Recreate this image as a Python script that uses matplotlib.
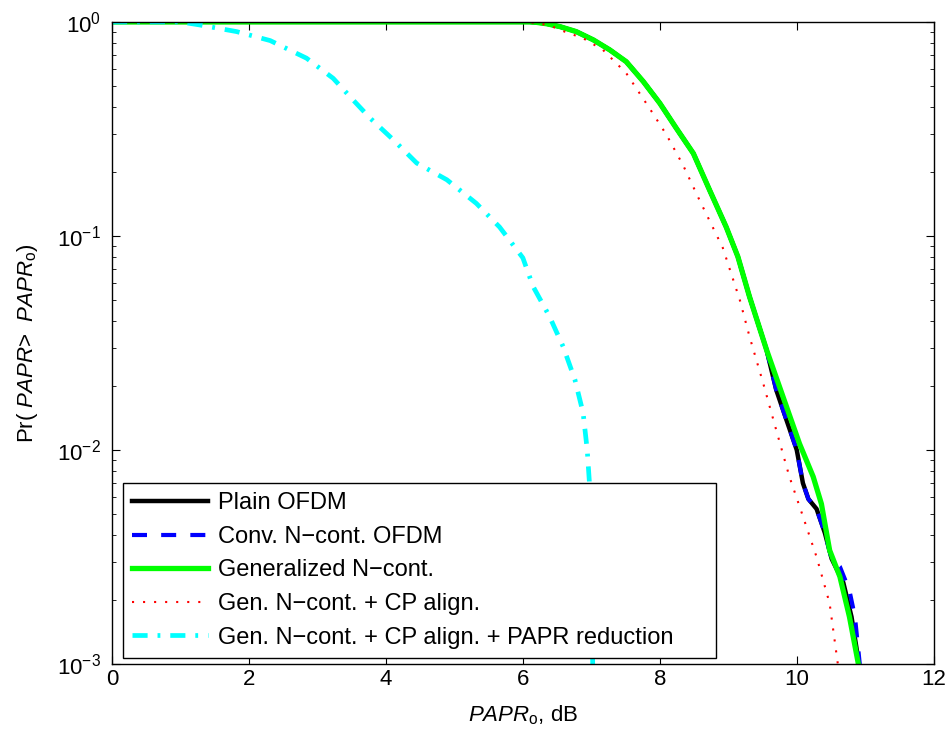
import numpy as np
import matplotlib
matplotlib.use("Agg")
from matplotlib import pyplot as plt

plt.rcParams['font.family'] = ['Liberation Sans', 'DejaVu Sans']
plt.rcParams['mathtext.fontset'] = 'custom'
plt.rcParams['mathtext.rm'] = 'Liberation Sans'
plt.rcParams['mathtext.it'] = 'Liberation Sans:italic'
plt.rcParams['mathtext.default'] = 'regular'

# CCDF curves (x in dB, y probability)
plain_x = [0, 6.1, 6.2, 6.35, 6.54, 6.78, 7.03, 7.27, 7.51, 7.76, 8.0, 8.24, 8.49, 8.73, 8.97, 9.14,
           9.31, 9.56, 9.70, 9.85, 10.0, 10.09, 10.17, 10.29, 10.41, 10.51, 10.68, 10.80, 10.91]
plain_y = [1, 1, 0.995, 0.98, 0.951, 0.901, 0.824, 0.740, 0.652, 0.526, 0.417, 0.319, 0.243, 0.163, 0.110, 0.080,
           0.0520, 0.0293, 0.0191, 0.0138, 0.0100, 0.0070, 0.0059, 0.0053, 0.0041, 0.0031, 0.0024, 0.00166, 0.001]

conv_x = [0, 6.1, 6.2, 6.35, 6.54, 6.78, 7.03, 7.27, 7.51, 7.76, 8.0, 8.24, 8.49, 8.73, 8.97, 9.14,
          9.31, 9.56, 9.70, 9.85, 10.0, 10.09, 10.17, 10.29, 10.41, 10.51, 10.63, 10.77, 10.85, 10.92]
conv_y = [1, 1, 0.995, 0.98, 0.951, 0.901, 0.824, 0.740, 0.652, 0.526, 0.417, 0.319, 0.243, 0.163, 0.110, 0.080,
          0.0520, 0.0293, 0.0191, 0.0138, 0.0100, 0.0070, 0.0059, 0.0053, 0.0041, 0.0031, 0.00285, 0.0022, 0.00166, 0.001]

gen_x = [0, 6.1, 6.2, 6.35, 6.54, 6.78, 7.03, 7.27, 7.51, 7.76, 8.0, 8.24, 8.49, 8.73, 8.97, 9.14,
         9.31, 9.56, 9.80, 10.04, 10.24, 10.36, 10.48, 10.63, 10.77, 10.90]
gen_y = [1, 1, 0.995, 0.98, 0.951, 0.901, 0.824, 0.740, 0.652, 0.526, 0.417, 0.319, 0.243, 0.163, 0.110, 0.080,
         0.0520, 0.0293, 0.0177, 0.0107, 0.0075, 0.0056, 0.0034, 0.00256, 0.00166, 0.001]

cp_x = [0, 6.0, 6.2, 6.4, 6.61, 6.88, 7.17, 7.51, 7.85, 8.10, 8.34, 8.58, 8.92, 9.17, 9.31, 9.51, 9.70,
        9.89, 10.09, 10.29, 10.48, 10.60]
cp_y = [1, 1, 0.99, 0.96, 0.901, 0.839, 0.740, 0.576, 0.395, 0.296, 0.214, 0.147, 0.088, 0.050, 0.0339, 0.0205, 0.0124,
        0.00755, 0.0049, 0.00316, 0.00192, 0.001]

red_x = [0, 1.0, 1.28, 1.82, 2.31, 2.84, 3.23, 3.52, 3.77, 4.11, 4.45, 4.89, 5.32, 5.66, 6.0, 6.15, 6.39, 6.59,
         6.76, 6.88, 6.94, 6.97, 7.0, 7.02]
red_y = [1, 1, 0.968, 0.901, 0.818, 0.677, 0.545, 0.432, 0.355, 0.281, 0.219, 0.183, 0.142, 0.110, 0.079, 0.058,
         0.042, 0.0303, 0.0213, 0.0149, 0.0100, 0.0072, 0.003, 0.001]

labels = ['Plain OFDM', 'Conv. N\u2212cont. OFDM', 'Generalized N\u2212cont.',
          'Gen. N\u2212cont. + CP align.', 'Gen. N\u2212cont. + CP align. + PAPR reduction']

fig = plt.figure(figsize=(9.51, 7.38), dpi=100)
ax = fig.add_axes([0.1178, 0.1003, 0.864, 0.870])

ax.plot(plain_x, plain_y, color='k', lw=3.2, label=labels[0])
ax.plot(conv_x, conv_y, color=(0, 0, 1), lw=3.0, dashes=(3.6, 3.4), label=labels[1])
ax.plot(gen_x, gen_y, color=(0, 1, 0), lw=3.8, label=labels[2])
ax.plot(cp_x, cp_y, color=(1, 0, 0), lw=1.5, dashes=(1, 4.3), label=labels[3])
ax.plot(red_x, red_y, color=(0, 1, 1), lw=3.4, dashes=(3.2, 2.1, 0.6, 2.1), label=labels[4])

ax.set_yscale('log')
ax.set_xlim(0, 12)
ax.set_ylim(1e-3, 1)
ax.set_xticks(range(0, 13, 2))
ax.tick_params(which='both', direction='in', top=True, right=True, labelsize=16)
ax.tick_params(axis='y', which='major', pad=8)
ax.tick_params(which='major', length=6)
ax.tick_params(which='minor', length=3)
for s in ax.spines.values():
    s.set_linewidth(1.0)

ax.set_xlabel('$\\mathit{PAPR}_\\mathrm{o}$, dB', fontsize=16, labelpad=10)
ax.set_ylabel('Pr( $\\mathit{PAPR}$>  $\\mathit{PAPR}_\\mathrm{o}$)', fontsize=16, labelpad=12)

leg = ax.legend(loc='lower left', bbox_to_anchor=(0.0134, 0.0093, 0.7214, 0.3), mode='expand',
                borderaxespad=0, fontsize=17, handlelength=3.2, labelspacing=0.49, fancybox=False,
                framealpha=1, edgecolor='k', borderpad=0.4, handletextpad=0.42)
leg.get_frame().set_linewidth(1.0)

fig.savefig('out.png', dpi=100)
